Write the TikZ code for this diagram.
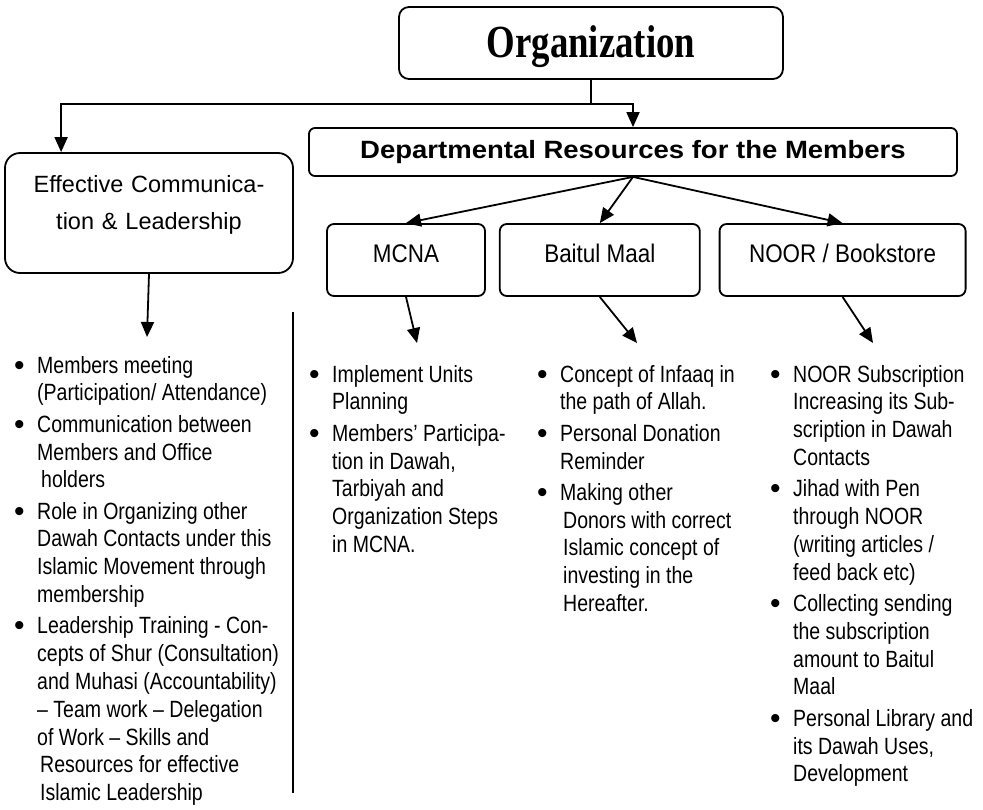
\documentclass[tikz,border=0pt]{standalone}
\usepackage{fontspec}
\setmainfont{Liberation Sans}
\newfontfamily\plainfont{Liberation Sans}
\newfontfamily\listfont[FakeStretch=0.83]{Liberation Sans}
\newfontfamily\unitfont[FakeStretch=0.88]{Liberation Sans}
\newfontfamily\deptfont[FakeStretch=1.1]{Liberation Sans}
\newfontfamily\titlefont[FakeStretch=0.8]{Liberation Serif}
\usetikzlibrary{arrows.meta,positioning}
\newcommand{\bul}{\makebox[23pt][l]{\raisebox{-2pt}{\plainfont\fontsize{30}{30}\selectfont\textbullet}}}
\tikzset{
    box/.style={rectangle, rounded corners=7pt, draw=black, line width=1.8pt,
        inner xsep=4pt, inner ysep=0pt},
    topbox/.style={box, rounded corners=10pt, minimum width=384pt,
        text height=50pt, text depth=22pt, font=\titlefont\bfseries\fontsize{46}{50}\selectfont},
    deptbox/.style={box, rounded corners=6pt, minimum width=648pt,
        text height=30pt, text depth=18pt, font=\deptfont\bfseries\fontsize{25}{30}\selectfont},
    unitbox/.style={box, text height=38pt, text depth=34pt,
        font=\unitfont\fontsize{25.5}{30}\selectfont},
    sidebox/.style={box, rounded corners=15pt, text width=280pt, align=center,
        text height=39pt, text depth=81pt, font=\plainfont\fontsize{23.5}{37}\selectfont},
    bullets/.style={anchor=north west, inner sep=0pt, font=\listfont\fontsize{23.5}{27.8}\selectfont},
    arrow/.style={-{Triangle[length=15pt,width=13pt]}, line width=1.8pt},
    divider/.style={line width=1.8pt},
    elbow/.style={to path={-- ++(0,24) -| (\tikztotarget)}}
}
\begin{document}
\begin{tikzpicture}[x=1pt, y=-1pt]
    \useasboundingbox (0,0) rectangle (983,809);
    \node[topbox] (org) at (591,43) {Organization};
    \node[deptbox] (dept) at (633,152) {Departmental Resources for the Members};
    \node[sidebox] (eff) at (149,213) {Effective Communica-\\tion \& Leadership};
    \node[unitbox, minimum width=158pt] (mcna) at (406,260) {MCNA};
    \node[unitbox, minimum width=200pt, right=13pt of mcna] (bait) {Baitul Maal};
    \node[unitbox, minimum width=246pt, right=18pt of bait] (noor) {NOOR / Bookstore};
    % ends of the short arrows
    \coordinate (effend) at (147,337);
    \coordinate (mcnaend) at (417,343);
    \coordinate (baitend) at (637,343);
    \coordinate (noorend) at (873,343);
    \coordinate (septop) at (293,312);
    \coordinate (sepbot) at (293,793);
    \path (org.south) edge [arrow, elbow] ([xshift=57pt]eff.north west)
        (org.south) edge [arrow, elbow] (dept.north)
        (dept.south) edge [arrow] (mcna.north)
        (dept.south) edge [arrow] (bait.north)
        (dept.south) edge [arrow] (noor.north)
        (eff.south) edge [arrow] (effend)
        (mcna.south) edge [arrow] (mcnaend)
        (bait.south) edge [arrow] (baitend)
        (noor.south) edge [arrow] (noorend);
    \draw[divider] (septop) -- (sepbot);
    % lists
    \node[bullets] (efflist) at (14,353.5) {\begin{tabular}{@{}l@{}l@{}}
        \bul & Members meeting\\
             & (Participation/ Attendance)\\[3.5pt]
        \bul & Communication between\\
             & Members and Office\\
             & \hspace{4pt}holders\\[3.5pt]
        \bul & Role in Organizing other\\
             & Dawah Contacts under this\\
             & Islamic Movement through\\
             & membership\\[3.5pt]
        \bul & Leadership Training - Con-\\
             & cepts of Shur (Consultation)\\
             & and Muhasi (Accountability)\\
             & – Team work – Delegation\\
             & of Work – Skills and\\
             & \hspace{3pt}Resources for effective\\
             & \hspace{3pt}Islamic Leadership
        \end{tabular}};
    \node[bullets] (mcnalist) at (309,362.5) {\begin{tabular}{@{}l@{}l@{}}
        \bul & Implement Units\\
             & Planning\\[3.5pt]
        \bul & Members’ Participa-\\
             & tion in Dawah,\\
             & Tarbiyah and\\
             & Organization Steps\\
             & in MCNA.
        \end{tabular}};
    \node[bullets] (baitlist) at (537,362.5) {\begin{tabular}{@{}l@{}l@{}}
        \bul & Concept of Infaaq in\\
             & the path of Allah.\\[3.5pt]
        \bul & Personal Donation\\
             & Reminder\\[3.5pt]
        \bul & Making other\\
             & \hspace{3pt}Donors with correct\\
             & \hspace{3pt}Islamic concept of\\
             & \hspace{3pt}investing in the\\
             & \hspace{3pt}Hereafter.
        \end{tabular}};
    \node[bullets] (noorlist) at (770,362.5) {\begin{tabular}{@{}l@{}l@{}}
        \bul & NOOR Subscription\\
             & Increasing its Sub-\\
             & scription in Dawah\\
             & Contacts\\[3.5pt]
        \bul & Jihad with Pen\\
             & through NOOR\\
             & (writing articles /\\
             & feed back etc)\\[3.5pt]
        \bul & Collecting sending\\
             & the subscription\\
             & amount to Baitul\\
             & Maal\\[3.5pt]
        \bul & Personal Library and\\
             & its Dawah Uses,\\
             & Development
        \end{tabular}};
\end{tikzpicture}
\end{document}
